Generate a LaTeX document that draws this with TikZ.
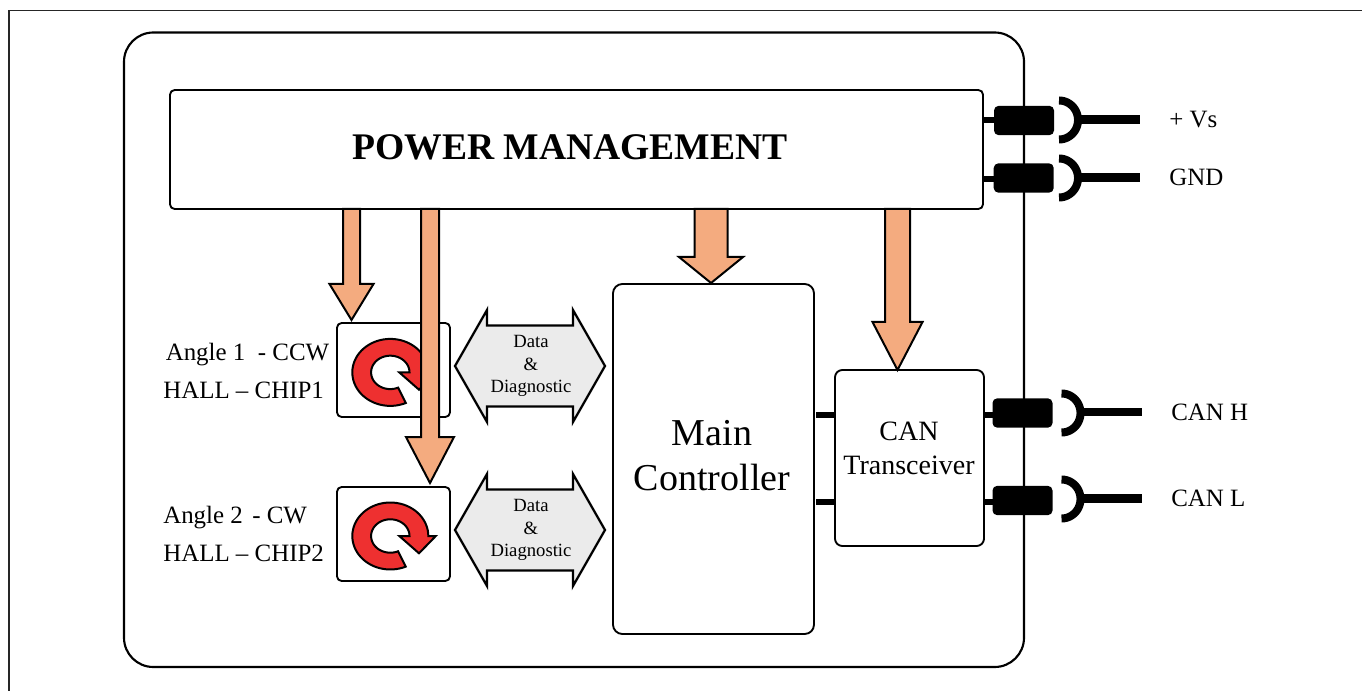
\documentclass[tikz,border=0pt]{standalone}
\usepackage{fontspec}
\setmainfont{Liberation Serif}
\usetikzlibrary{calc}
\definecolor{arroworange}{HTML}{F4AB7F}
\definecolor{glyphred}{HTML}{EE3030}
\definecolor{busgray}{HTML}{EBEBEB}
\tikzset{
  x=0.75pt,y=-0.75pt,
  frameline/.style={line width=1.1pt,black!85},
  outerbox/.style={line width=1.6pt,rounded corners=22pt},
  block/.style={draw,fill=white,line width=1.4pt,inner sep=0pt,align=center},
  blockarrow/.style={draw,fill=arroworange,line width=1.5pt,miter limit=10},
  busarrow/.style={draw,fill=busgray,line width=1.7pt,miter limit=10},
  glyph/.style={draw,fill=glyphred,line width=1.5pt},
  stub/.style={line width=4.4pt},
  lead/.style={line width=6.6pt},
  socket/.style={line width=6pt},
  pill/.style={fill=black,rounded corners=3.5pt,inner sep=0pt,minimum width=45pt,minimum height=22pt},
  lab/.style={font=\fontsize{18.7}{22}\selectfont,inner sep=0pt,anchor=west},
  bustext/.style={font=\fontsize{14}{16.9}\selectfont,align=center,inner sep=0pt},
}
% start coordinate, tip coordinate, half shaft, half head, head length
\newcommand{\blockarrow}[5]{%
  \draw[blockarrow] ($(#1)+(-#3,0)$) -- ($(#2)+(-#3,-#5)$) -- ($(#2)+(-#4,-#5)$) -- (#2)
    -- ($(#2)+(#4,-#5)$) -- ($(#2)+(#3,-#5)$) -- ($(#1)+(#3,0)$) -- cycle;}
\newcommand{\busarrow}[1]{%
  \draw[busarrow] ($(#1)+(-75,0)$) -- ($(#1)+(-43,-56)$) -- ($(#1)+(-43,-40.5)$) -- ($(#1)+(43,-40.5)$)
    -- ($(#1)+(43,-56)$) -- ($(#1)+(75,0)$) -- ($(#1)+(43,56)$) -- ($(#1)+(43,40.5)$)
    -- ($(#1)+(-43,40.5)$) -- ($(#1)+(-43,56)$) -- cycle;}
\newcommand{\turnglyph}[2]{%
  \begin{scope}[shift={(#1,#2)}]
    \draw[glyph] plot[domain=66:360,samples=60,smooth] ({38*cos(\x)},{33.5*sin(\x)})
      -- (45.5,0) -- (28.7,17.3) -- (9,0) -- (19.2,0)
      -- plot[domain=360:66,samples=60,smooth] ({19.2*cos(\x)},{16.7*sin(\x)}) -- cycle;
  \end{scope}}
% pill name, pill centre x, y, socket centre x, y, lead end x, lead y
\newcommand{\jack}[7]{%
  \node[pill] (#1) at (#2,#3) {};
  \draw[socket] plot[domain=-90:90,samples=40,smooth] ({#4+19*cos(\x)},{#5+19.5*sin(\x)});
  \coordinate (#1s) at (#4+16,#7);
  \coordinate (#1e) at (#6,#7);
  \draw[lead] (#1s) -- (#1e);
}
\begin{document}
\begin{tikzpicture}
\useasboundingbox (0,0) rectangle (1362,691);
\draw[frameline] (9,691) -- (9,10.5) -- (1362,10.5);
\draw[outerbox] (124,32.5) rectangle (1024,667);

% blocks
\node[block,rounded corners=3.5pt,minimum width=813*0.75pt,minimum height=119*0.75pt] (pm) at (576.5,149.5) {};
\node[font=\fontsize{28.2}{32}\bfseries\selectfont,inner sep=0pt] (pmt) at (570,147) {POWER MANAGEMENT};
\node[block,rounded corners=7pt,minimum width=201*0.75pt,minimum height=350*0.75pt] (mc) at (713.5,459) {};
\node[font=\fontsize{28.5}{33.75}\selectfont,align=center,inner sep=0pt] (mct) at (712,456) {Main\\Controller};
\node[block,rounded corners=5.5pt,minimum width=149*0.75pt,minimum height=176*0.75pt] (can) at (909.5,458) {};
\node[font=\fontsize{21}{25.5}\selectfont,align=center,inner sep=0pt] (cant) at (909,448) {CAN\\Transceiver};
\node[block,rounded corners=3.5pt,minimum width=113*0.75pt,minimum height=94*0.75pt] (chipa) at (393.5,370) {};
\node[block,rounded corners=3.5pt,minimum width=113*0.75pt,minimum height=94*0.75pt] (chipb) at (393.5,534) {};
\turnglyph{390.3}{372.4}
\turnglyph{390.3}{536}

% power arrows
\coordinate (a1s) at (351.5,209); \coordinate (a1t) at (351.5,320);
\coordinate (a2s) at (430,209);   \coordinate (a2t) at (430,483);
\coordinate (a3s) at (711,209);   \coordinate (a3t) at (711,283);
\coordinate (a4s) at (897.5,209); \coordinate (a4t) at (897.5,370);
\blockarrow{a1s}{a1t}{8.5}{22}{36}
\blockarrow{a2s}{a2t}{9}{24}{46}
\blockarrow{a3s}{a3t}{16.5}{32}{26}
\blockarrow{a4s}{a4t}{12.5}{25}{48}

% data buses
\coordinate (bus1) at (530,366);
\coordinate (bus2) at (530,530);
\busarrow{bus1}
\busarrow{bus2}
\node[bustext] (bus1t) at (531,366) {Data\\\&\\Diagnostic};
\node[bustext] (bus2t) at (531,530) {Data\\\&\\Diagnostic};

% internal links
\coordinate (mcu) at (816,415); \coordinate (mcl) at (816,502);
\draw[stub] (mcu) -- (mcu -| can.west);
\draw[stub] (mcl) -- (mcl -| can.west);

% jacks
\coordinate (vsp) at (1024,119.7); \coordinate (gndp) at (1024,179);
\coordinate (hp) at (1022.5,415); \coordinate (lp) at (1022.5,502);
\draw[stub] (vsp -| pm.east) -- (vsp);
\draw[stub] (gndp -| pm.east) -- (gndp);
\draw[stub] (hp -| can.east) -- (hp);
\draw[stub] (lp -| can.east) -- (lp);
\jack{jvs}{1024}{120.5}{1059}{120}{1140}{119.5}
\jack{jgnd}{1023.7}{178}{1059}{178}{1140}{177.7}
\jack{jh}{1022.5}{413}{1061.5}{413}{1142}{412}
\jack{jl}{1022.5}{500.5}{1061.5}{499}{1142}{498.5}

% labels
\node[lab] (l1) at (1169,120) {+ Vs};
\node[lab] (l2) at (1169,177) {GND};
\node[lab] (l3) at (1171,412) {CAN H};
\node[lab] (l4) at (1171,498) {CAN L};
\node[lab] (l5) at (165.5,355) {Angle 1~ - CCW};
\node[lab] (l6) at (163,390) {HALL – CHIP1};
\node[lab] (l7) at (163,518) {Angle 2 \hspace{2.4pt}- CW};
\node[lab] (l8) at (163,553) {HALL – CHIP2};
\end{tikzpicture}
\end{document}
